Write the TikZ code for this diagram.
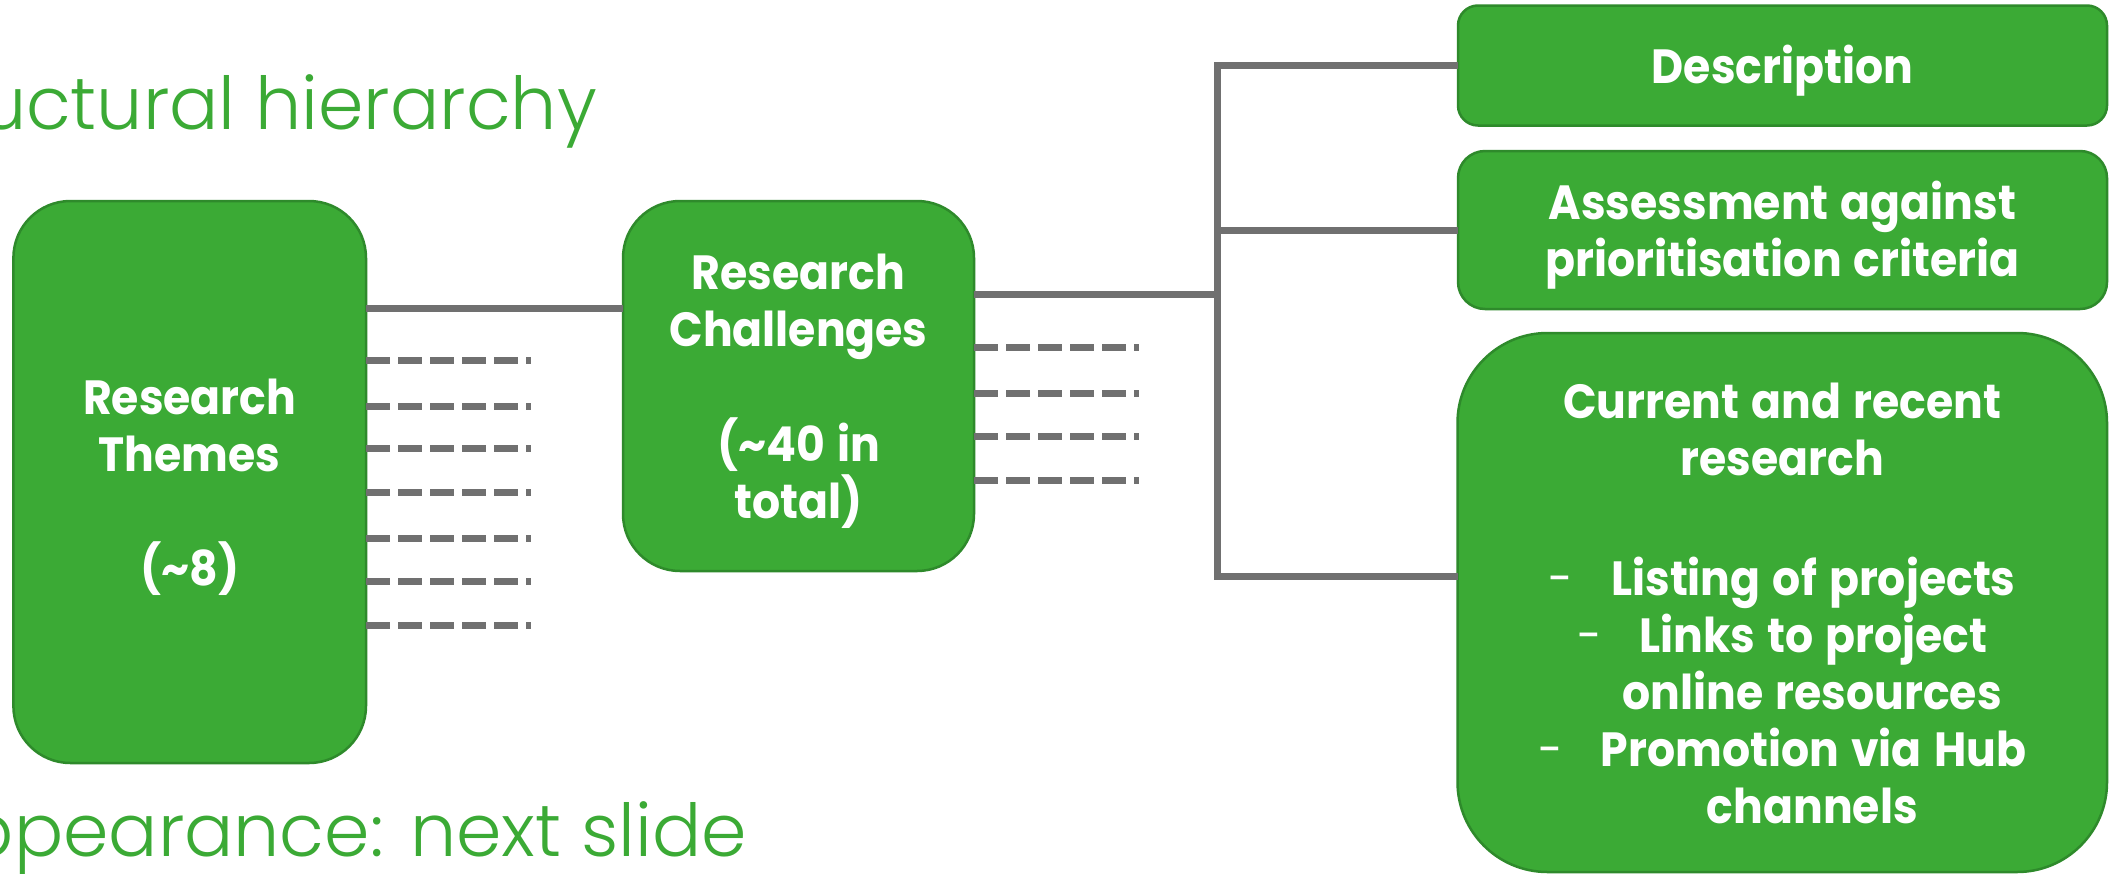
\documentclass[tikz,border=0pt]{standalone}
\usepackage{fontspec}
\setmainfont{Poppins}[FakeStretch=0.92,WordSpace=1.3]
\IfFontExistsTF{Poppins Light}{\newfontfamily\titlefont{Poppins Light}}{\newfontfamily\titlefont{Poppins}}
\definecolor{boxgreen}{HTML}{3BAA35}
\definecolor{boxedge}{HTML}{2E8A2B}
\definecolor{linegray}{HTML}{707070}
\newcommand{\firstln}{\rule{0pt}{50pt}}
\newcommand{\lastln}{\rule[-14pt]{0pt}{14pt}}
\newcommand{\itemdash}{{\mdseries -}\hspace{38pt}}
\begin{document}
\begin{tikzpicture}[x=1pt,y=-1pt,
  box/.style={draw=boxedge, line width=2.5pt, fill=boxgreen, text=white,
    font=\bfseries\fontsize{48}{57}\selectfont, align=center, inner sep=0pt,
    outer sep=0pt, anchor=north west},
  conn/.style={draw=linegray, line width=7pt},
  dashconn/.style={conn, dash pattern=on 24pt off 8pt},
  titletext/.style={text=boxgreen, font=\titlefont\fontsize{73}{80}\selectfont, inner sep=0pt, anchor=base east}
]
\useasboundingbox (0,0) rectangle (2116,873);
\fill[white] (0,0) rectangle (2116,873);
\clip (0,0) rectangle (2116,873);

% titles
\node[titletext] (title) at (597,129) {uctural hierarchy};
\node[titletext] (subtitle) at (747,856) {ppearance: next slide};

% boxes
\node[box, minimum width=352.6pt, minimum height=562pt, rounded corners=57pt] (themes) at (13.4,201)
  {\firstln Research\\Themes\\[57pt](\textasciitilde8)\lastln};
\node[box, minimum width=351pt, minimum height=370pt, rounded corners=57pt] (chal) at (623,201)
  {\firstln Research\\Challenges\\[57pt](\textasciitilde40 in\\total)\lastln};
\node[box, minimum width=649pt, minimum height=120pt, rounded corners=20pt] (desc) at (1458,5.5)
  {\firstln Description\lastln};
\node[box, minimum width=649pt, minimum height=158pt, rounded corners=27pt] (assess) at (1458,151)
  {\firstln Assessment against\\prioritisation criteria\lastln};
\node[box, minimum width=649.5pt, minimum height=539pt, rounded corners=90pt] (cur) at (1457.5,333)
  {\firstln Current and recent\\research\\[63pt]\itemdash Listing of projects\\\itemdash Links to project\\\hspace*{60pt}online resources\\\itemdash Promotion via Hub\\\hspace*{60pt}channels\lastln};

% helper coordinates
\coordinate (yA) at (0,308.3);
\coordinate (jn) at (1217,294.3);
\coordinate (yCur) at (0,576.3);

% solid connectors
\draw[conn] (themes.east |- yA) -- (chal.west |- yA);
\draw[conn] (chal.east |- jn) -- (jn);
\draw[conn, line join=miter] (desc.west) -- (desc.west -| jn) -- (jn |- yCur) -- (cur.west |- yCur);
\draw[conn] (assess.west -| jn) -- (assess.west);

% dashed stubs
\foreach \yy [count=\i] in {360,406,448.3,492.3,538.3,581,625} {
  \coordinate (td\i) at (530.7,\yy);
  \draw[dashconn] (themes.east |- td\i) -- (td\i);
}
\foreach \yy [count=\i] in {347.7,393.7,436,480} {
  \coordinate (cd\i) at (1139.3,\yy);
  \draw[dashconn] (chal.east |- cd\i) -- (cd\i);
}
\end{tikzpicture}
\end{document}
